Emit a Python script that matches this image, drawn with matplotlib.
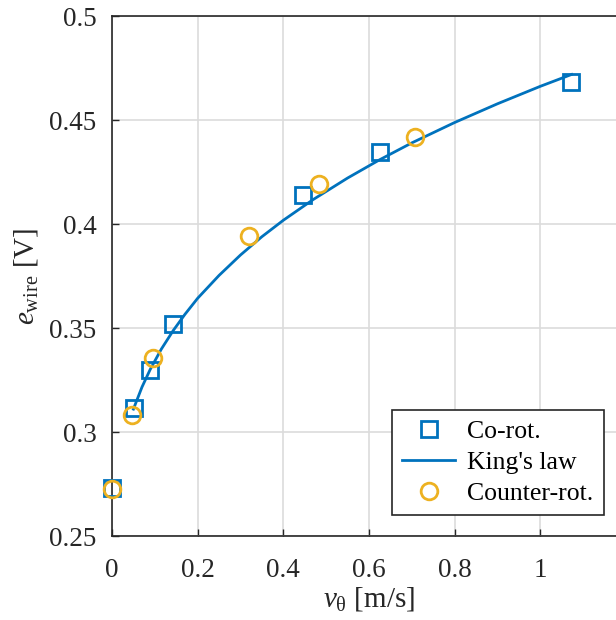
import matplotlib
matplotlib.use('Agg')
import matplotlib.pyplot as plt

# Co-rotating data
co_v = [0.0, 0.051, 0.089, 0.142, 0.446, 0.625, 1.071]
co_e = [0.273, 0.3115, 0.330, 0.352, 0.414, 0.4345, 0.4685]

# Counter-rotating data
counter_v = [0.0, 0.047, 0.096, 0.320, 0.483, 0.707]
counter_e = [0.2725, 0.308, 0.3355, 0.394, 0.419, 0.442]

# King's law curve
king_v = [0.050, 0.070, 0.089, 0.115, 0.143, 0.170, 0.200, 0.250, 0.300, 0.350,
          0.400, 0.470, 0.550, 0.625, 0.700, 0.800, 0.900, 1.000, 1.073]
king_e = [0.3110, 0.3216, 0.3300, 0.3398, 0.3488, 0.3565, 0.3643, 0.3753, 0.3851, 0.3939,
          0.4018, 0.4118, 0.4221, 0.4309, 0.4390, 0.4488, 0.4578, 0.4662, 0.4719]

x_ticks = [0, 0.2, 0.4, 0.6, 0.8, 1]
y_ticks = [0.25, 0.3, 0.35, 0.4, 0.45, 0.5]

plt.rcParams['font.family'] = ['Liberation Serif', 'DejaVu Serif']
plt.rcParams['mathtext.fontset'] = 'custom'
plt.rcParams['mathtext.rm'] = 'Liberation Serif'
plt.rcParams['mathtext.it'] = 'Liberation Serif:italic'

blue = '#0072BD'
yellow = '#EDB120'
axcol = '#262626'
fs = 19.5

fig = plt.figure(figsize=(6.16, 6.2), dpi=100)
ax = fig.add_axes([112 / 616, 84 / 620, 514 / 616, 520 / 620])

ax.plot(co_v, co_e, 's', ms=11.5, mfc='none', mec=blue, mew=2, label='Co-rot.',
        clip_on=False, zorder=3)
ax.plot(king_v, king_e, '-', color=blue, lw=2, label="King's law")
ax.plot(counter_v, counter_e, 'o', ms=12, mfc='none', mec=yellow, mew=2, label='Counter-rot.',
        clip_on=False, zorder=4)

ax.set_xlim(0, 1.2)
ax.set_ylim(0.25, 0.5)
ax.set_xticks(x_ticks)
ax.set_xticklabels(['0', '0.2', '0.4', '0.6', '0.8', '1'])
ax.set_yticks(y_ticks)
ax.set_yticklabels(['0.25', '0.3', '0.35', '0.4', '0.45', '0.5'])

ax.grid(True, color='#dcdcdc', lw=1.2)
ax.set_axisbelow(True)
for s in ax.spines.values():
    s.set_color(axcol)
    s.set_linewidth(1.2)
ax.tick_params(direction='in', length=5, width=1, colors=axcol, labelsize=fs,
               labelcolor='#262626')
ax.tick_params(axis='y', pad=11)
ax.tick_params(axis='x', pad=16)

ax.set_xlabel(r'$v_{\mathrm{\theta}}$ [m/s]', fontsize=21, color='#262626', labelpad=1)
ax.set_ylabel(r'$e_{\mathrm{wire}}$ [V]', fontsize=21, color='#262626', labelpad=7)

leg = ax.legend(loc='lower right', bbox_to_anchor=(603.5 / 616, 105 / 620),
                bbox_transform=fig.transFigure, borderaxespad=0,
                fontsize=18.5, frameon=True, fancybox=False, edgecolor=axcol,
                framealpha=1, handlelength=2.06, handletextpad=0.45,
                borderpad=0.4, labelspacing=0.3)
leg.get_frame().set_linewidth(1.2)
leg.set_zorder(5)

fig.savefig('out.png', dpi=100)
